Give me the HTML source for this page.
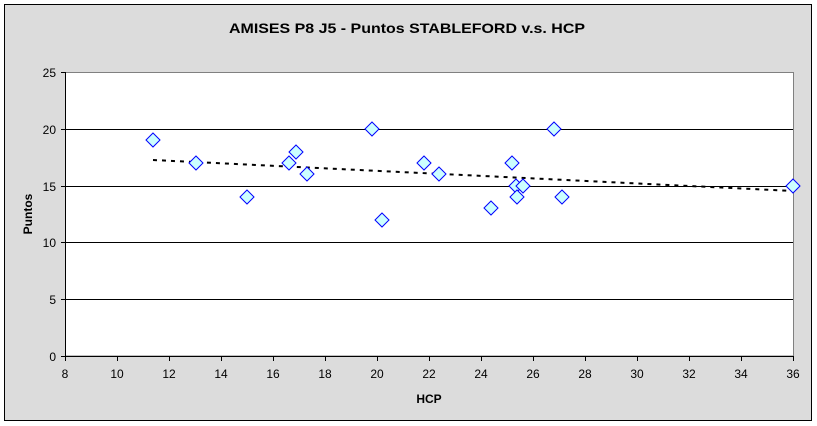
<!DOCTYPE html>
<html><head><style>body{margin:0;background:#fff}svg{display:block}</style></head><body>
<svg width="817" height="426" xmlns="http://www.w3.org/2000/svg" font-family="Liberation Sans, Arial, sans-serif">
<rect x="0" y="0" width="817" height="426" fill="#fff"/>
<rect x="4.5" y="4.5" width="807" height="416" fill="#dcdcdc" stroke="#000" stroke-width="1"/>
<rect x="65.5" y="72.5" width="728" height="283.5" fill="#fff" stroke="#808080" stroke-width="1"/>
<g stroke="#000" stroke-width="1">
<line x1="65" y1="129.5" x2="793" y2="129.5"/>
<line x1="65" y1="186.5" x2="793" y2="186.5"/>
<line x1="65" y1="242.5" x2="793" y2="242.5"/>
<line x1="65" y1="299.5" x2="793" y2="299.5"/>
<line x1="65.5" y1="72" x2="65.5" y2="356"/>
<line x1="65" y1="356.5" x2="794" y2="356.5"/>
<line x1="61" y1="72.5" x2="65" y2="72.5"/>
<line x1="61" y1="129.5" x2="65" y2="129.5"/>
<line x1="61" y1="186.5" x2="65" y2="186.5"/>
<line x1="61" y1="242.5" x2="65" y2="242.5"/>
<line x1="61" y1="299.5" x2="65" y2="299.5"/>
<line x1="61" y1="356.5" x2="65" y2="356.5"/>
</g>
<g stroke="#000" stroke-width="1">
<line x1="65.5" y1="356" x2="65.5" y2="361"/><line x1="117.5" y1="356" x2="117.5" y2="361"/><line x1="169.5" y1="356" x2="169.5" y2="361"/><line x1="221.5" y1="356" x2="221.5" y2="361"/><line x1="273.5" y1="356" x2="273.5" y2="361"/><line x1="325.5" y1="356" x2="325.5" y2="361"/><line x1="377.5" y1="356" x2="377.5" y2="361"/><line x1="429.5" y1="356" x2="429.5" y2="361"/><line x1="481.5" y1="356" x2="481.5" y2="361"/><line x1="533.5" y1="356" x2="533.5" y2="361"/><line x1="585.5" y1="356" x2="585.5" y2="361"/><line x1="637.5" y1="356" x2="637.5" y2="361"/><line x1="689.5" y1="356" x2="689.5" y2="361"/><line x1="741.5" y1="356" x2="741.5" y2="361"/><line x1="793.5" y1="356" x2="793.5" y2="361"/>
</g>
<g font-size="12" text-anchor="middle" fill="#000">
<text x="65" y="378">8</text><text x="117" y="378">10</text><text x="169" y="378">12</text><text x="221" y="378">14</text><text x="273" y="378">16</text><text x="325" y="378">18</text><text x="377" y="378">20</text><text x="429" y="378">22</text><text x="481" y="378">24</text><text x="533" y="378">26</text><text x="585" y="378">28</text><text x="637" y="378">30</text><text x="689" y="378">32</text><text x="741" y="378">34</text><text x="793" y="378">36</text>
</g>
<g font-size="12" text-anchor="end" fill="#000">
<text x="56" y="77">25</text><text x="56" y="134">20</text><text x="56" y="191">15</text><text x="56" y="247">10</text><text x="56" y="304">5</text><text x="56" y="361">0</text>
</g>
<text x="229" y="33" font-size="14" font-weight="bold" textLength="356" lengthAdjust="spacingAndGlyphs">AMISES P8 J5 - Puntos STABLEFORD v.s. HCP</text>
<text x="429" y="403" font-size="12" font-weight="bold" text-anchor="middle">HCP</text>
<text transform="translate(32,214) rotate(-90)" font-size="12" font-weight="bold" text-anchor="middle">Puntos</text>
<line x1="153" y1="160" x2="793" y2="191" stroke="#000" stroke-width="2" stroke-dasharray="4,5"/>
<g fill="#ccffff" stroke="#0000ff" stroke-width="1">
<path d="M0,-7 L7,0 L0,7 L-7,0 Z" transform="translate(153,140)"/>
<path d="M0,-7 L7,0 L0,7 L-7,0 Z" transform="translate(196,163)"/>
<path d="M0,-7 L7,0 L0,7 L-7,0 Z" transform="translate(247,197)"/>
<path d="M0,-7 L7,0 L0,7 L-7,0 Z" transform="translate(289,163)"/>
<path d="M0,-7 L7,0 L0,7 L-7,0 Z" transform="translate(296,152)"/>
<path d="M0,-7 L7,0 L0,7 L-7,0 Z" transform="translate(307,174)"/>
<path d="M0,-7 L7,0 L0,7 L-7,0 Z" transform="translate(372,129)"/>
<path d="M0,-7 L7,0 L0,7 L-7,0 Z" transform="translate(382,220)"/>
<path d="M0,-7 L7,0 L0,7 L-7,0 Z" transform="translate(424,163)"/>
<path d="M0,-7 L7,0 L0,7 L-7,0 Z" transform="translate(439,174)"/>
<path d="M0,-7 L7,0 L0,7 L-7,0 Z" transform="translate(491,208)"/>
<path d="M0,-7 L7,0 L0,7 L-7,0 Z" transform="translate(512,163)"/>
<path d="M0,-7 L7,0 L0,7 L-7,0 Z" transform="translate(516,186)"/>
<path d="M0,-7 L7,0 L0,7 L-7,0 Z" transform="translate(517,197)"/>
<path d="M0,-7 L7,0 L0,7 L-7,0 Z" transform="translate(523,186)"/>
<path d="M0,-7 L7,0 L0,7 L-7,0 Z" transform="translate(554,129)"/>
<path d="M0,-7 L7,0 L0,7 L-7,0 Z" transform="translate(562,197)"/>
<path d="M0,-7 L7,0 L0,7 L-7,0 Z" transform="translate(793,186)"/>
</g>
</svg>
</body></html>
